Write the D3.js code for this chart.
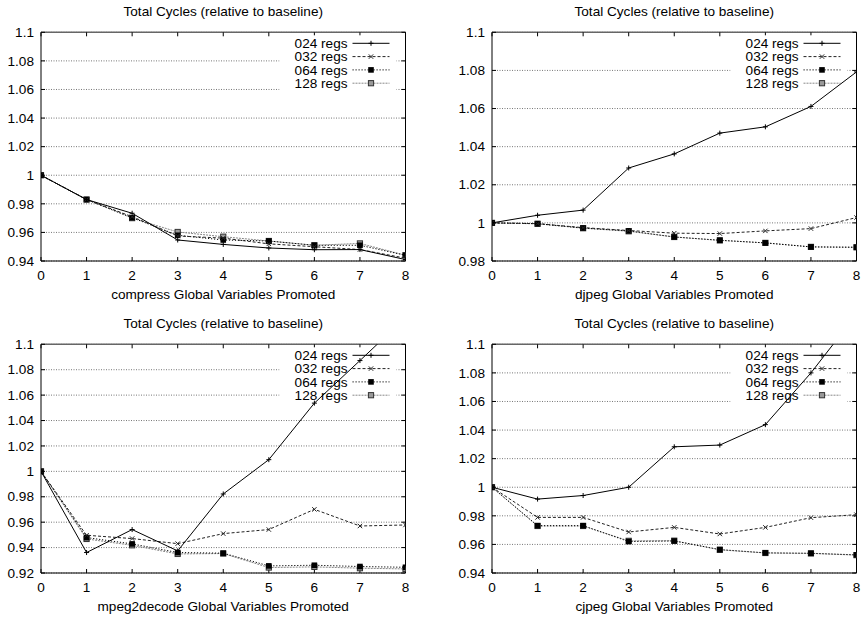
<!DOCTYPE html>
<html>
<head>
<meta charset="utf-8">
<script src="https://cdn.jsdelivr.net/npm/d3@7"></script>
<style>
  body { margin: 0; background: #fff; }
  text { font-family: "Liberation Sans", Arial, sans-serif; font-size: 13.6px; fill: #000; }
</style>
</head>
<body>
<div id="chart"></div>
<script>
// x values (global variables promoted)
var xValues = [0, 1, 2, 3, 4, 5, 6, 7, 8];
var seriesNames = ["024 regs", "032 regs", "064 regs", "128 regs"];

// compress
var compress_024 = [1.0, 0.983, 0.9734, 0.9547, 0.9516, 0.9491, 0.9479, 0.948, 0.941];
var compress_032 = [1.0, 0.983, 0.971, 0.9575, 0.956, 0.952, 0.950, 0.948, 0.942];
var compress_064 = [1.0, 0.983, 0.9703, 0.958, 0.9547, 0.954, 0.951, 0.951, 0.944];
var compress_128 = [1.0, 0.983, 0.970, 0.9603, 0.957, 0.954, 0.951, 0.9523, 0.944];

// djpeg
var djpeg_024 = [1.0, 1.004, 1.0067, 1.0288, 1.0362, 1.0471, 1.0504, 1.0611, 1.0792];
var djpeg_032 = [1.0, 0.9996, 0.9975, 0.996, 0.9946, 0.9944, 0.9958, 0.997, 1.0028];
var djpeg_064 = [1.0, 0.9996, 0.9973, 0.9958, 0.9926, 0.9909, 0.9895, 0.9874, 0.9872];
var djpeg_128 = [1.0, 0.9995, 0.9972, 0.9956, 0.9926, 0.9908, 0.9895, 0.9874, 0.9872];

// mpeg2decode
var mpeg2decode_024 = [1.0, 0.9361, 0.9542, 0.9374, 0.9822, 1.0092, 1.0537, 1.0872, 1.121];
var mpeg2decode_032 = [1.0, 0.9497, 0.9471, 0.9431, 0.951, 0.9542, 0.9701, 0.957, 0.9578];
var mpeg2decode_064 = [1.0, 0.9479, 0.9429, 0.9361, 0.9356, 0.9256, 0.9261, 0.9251, 0.9245];
var mpeg2decode_128 = [1.0, 0.9468, 0.9418, 0.935, 0.9353, 0.9243, 0.9248, 0.9238, 0.9232];

// cjpeg
var cjpeg_024 = [1.0, 0.9917, 0.9942, 1.0, 1.0283, 1.0295, 1.0438, 1.080, 1.121];
var cjpeg_032 = [1.0, 0.9789, 0.9789, 0.9687, 0.9719, 0.9673, 0.9719, 0.9787, 0.9808];
var cjpeg_064 = [1.0, 0.9731, 0.9731, 0.962, 0.9624, 0.9564, 0.9541, 0.9538, 0.9527];
var cjpeg_128 = [1.0, 0.9729, 0.9729, 0.9625, 0.9626, 0.9562, 0.954, 0.9537, 0.9525];

// y tick values for each panel
var compressTicks = [0.94, 0.96, 0.98, 1.0, 1.02, 1.04, 1.06, 1.08, 1.1];
var djpegTicks = [0.98, 1.0, 1.02, 1.04, 1.06, 1.08, 1.1];
var mpeg2decodeTicks = [0.92, 0.94, 0.96, 0.98, 1.0, 1.02, 1.04, 1.06, 1.08, 1.1];
var cjpegTicks = [0.94, 0.96, 0.98, 1.0, 1.02, 1.04, 1.06, 1.08, 1.1];

var panels = [
  {name: "compress", series: [compress_024, compress_032, compress_064, compress_128], ticks: compressTicks, ox: 0, oy: 0},
  {name: "djpeg", series: [djpeg_024, djpeg_032, djpeg_064, djpeg_128], ticks: djpegTicks, ox: 451, oy: 0},
  {name: "mpeg2decode", series: [mpeg2decode_024, mpeg2decode_032, mpeg2decode_064, mpeg2decode_128], ticks: mpeg2decodeTicks, ox: 0, oy: 312},
  {name: "cjpeg", series: [cjpeg_024, cjpeg_032, cjpeg_064, cjpeg_128], ticks: cjpegTicks, ox: 451, oy: 312}
];

// line styles per series
var styles = [
  {stroke: "#000", dash: null, marker: "plus"},
  {stroke: "#222", dash: "3,2", marker: "cross"},
  {stroke: "#000", dash: "1.2,1.8", marker: "square"},
  {stroke: "#888", dash: "2,1", marker: "box"}
];

var svg = d3.select("#chart").append("svg")
  .attr("width", 862)
  .attr("height", 618);

var margin = {left: 41, right: 405.5, top: 32.3, bottom: 261};
var fmt = d3.format("~g");

function drawMarker(g, type, cx, cy) {
  if (type == "plus") {
    g.append("path").attr("d", "M" + (cx - 2.5) + "," + cy + "h5M" + cx + "," + (cy - 2.5) + "v5")
      .attr("stroke", "#000").attr("stroke-width", 1).attr("fill", "none");
  } else if (type == "cross") {
    g.append("path").attr("d", "M" + (cx - 2.2) + "," + (cy - 2.2) + "l4.4,4.4M" + (cx - 2.2) + "," + (cy + 2.2) + "l4.4,-4.4")
      .attr("stroke", "#222").attr("stroke-width", 1).attr("fill", "none");
  } else if (type == "square") {
    g.append("rect").attr("x", cx - 2.8).attr("y", cy - 2.8).attr("width", 5.6).attr("height", 5.6)
      .attr("fill", "#000");
  } else {
    g.append("rect").attr("x", cx - 2.6).attr("y", cy - 2.6).attr("width", 5.2).attr("height", 5.2)
      .attr("fill", "#999").attr("stroke", "#333").attr("stroke-width", 1);
  }
}

panels.forEach(function (p, pi) {
  var g = svg.append("g").attr("transform", "translate(" + p.ox + "," + p.oy + ")");

  var x = d3.scaleLinear().domain([0, 8]).range([margin.left, margin.right]);
  var y = d3.scaleLinear().domain([p.ticks[0], p.ticks[p.ticks.length - 1]]).range([margin.bottom, margin.top]);

  // grid
  g.selectAll(".grid").data(p.ticks).enter().append("line")
    .attr("x1", margin.left).attr("x2", margin.right)
    .attr("y1", function (d) { return y(d); }).attr("y2", function (d) { return y(d); })
    .attr("stroke", "#777").attr("stroke-width", 1).attr("stroke-dasharray", "1,1.5");

  // frame
  g.append("path")
    .attr("d", "M" + margin.left + "," + margin.top + "V" + margin.bottom + "H" + margin.right + "V" + margin.top)
    .attr("fill", "none").attr("stroke", "#000").attr("stroke-width", 1);
  g.append("line")
    .attr("x1", margin.left).attr("x2", margin.right).attr("y1", margin.top).attr("y2", margin.top)
    .attr("stroke", "#666").attr("stroke-width", 1.6);

  // ticks on all four sides, pointing inward
  xValues.forEach(function (v) {
    g.append("line").attr("x1", x(v)).attr("x2", x(v)).attr("y1", margin.bottom).attr("y2", margin.bottom - 4)
      .attr("stroke", "#000");
    g.append("line").attr("x1", x(v)).attr("x2", x(v)).attr("y1", margin.top).attr("y2", margin.top + 4)
      .attr("stroke", "#000");
    g.append("text").attr("x", x(v)).attr("y", margin.bottom + 19).attr("text-anchor", "middle").text(v);
  });
  p.ticks.forEach(function (v) {
    g.append("line").attr("x1", margin.left).attr("x2", margin.left + 4).attr("y1", y(v)).attr("y2", y(v))
      .attr("stroke", "#000");
    g.append("line").attr("x1", margin.right).attr("x2", margin.right - 4).attr("y1", y(v)).attr("y2", y(v))
      .attr("stroke", "#000");
    g.append("text").attr("x", margin.left - 7).attr("y", y(v) + 4.7).attr("text-anchor", "end").text(fmt(v));
  });

  // titles
  g.append("text").attr("x", (margin.left + margin.right) / 2).attr("y", margin.top - 16)
    .attr("text-anchor", "middle").text("Total Cycles (relative to baseline)");
  g.append("text").attr("x", (margin.left + margin.right) / 2).attr("y", margin.bottom + 38)
    .attr("text-anchor", "middle").text(p.name + " Global Variables Promoted");

  // legend (white box hides the grid)
  var lg = g.append("g");
  lg.append("rect").attr("x", margin.right - 126).attr("y", margin.top + 3)
    .attr("width", 117).attr("height", 56).attr("fill", "#fff");
  seriesNames.forEach(function (name, i) {
    var ly = margin.top + 11 + i * 13.3;
    lg.append("text").attr("x", margin.right - 58).attr("y", ly + 4.7).attr("text-anchor", "end").text(name);
    lg.append("line").attr("x1", margin.right - 53).attr("x2", margin.right - 16)
      .attr("y1", ly).attr("y2", ly)
      .attr("stroke", styles[i].stroke).attr("stroke-width", 1)
      .attr("stroke-dasharray", styles[i].dash);
    drawMarker(lg, styles[i].marker, margin.right - 34.5, ly);
  });

  // clip
  var clipId = "clip" + pi;
  g.append("clipPath").attr("id", clipId).append("rect")
    .attr("x", margin.left).attr("y", margin.top)
    .attr("width", margin.right - margin.left).attr("height", margin.bottom - margin.top);

  var plot = g.append("g").attr("clip-path", "url(#" + clipId + ")");
  var line = d3.line().x(function (d, i) { return x(xValues[i]); }).y(function (d) { return y(d); });

  // draw 128 first so the 064 squares and solid 024 line sit on top
  for (var si = p.series.length - 1; si >= 0; si--) {
    var vals = p.series[si];
    plot.append("path").datum(vals)
      .attr("d", line)
      .attr("fill", "none")
      .attr("stroke", styles[si].stroke)
      .attr("stroke-width", 1)
      .attr("stroke-dasharray", styles[si].dash);
    vals.forEach(function (v, i) {
      drawMarker(plot, styles[si].marker, x(xValues[i]), y(v));
    });
  }
});
</script>
</body>
</html>
